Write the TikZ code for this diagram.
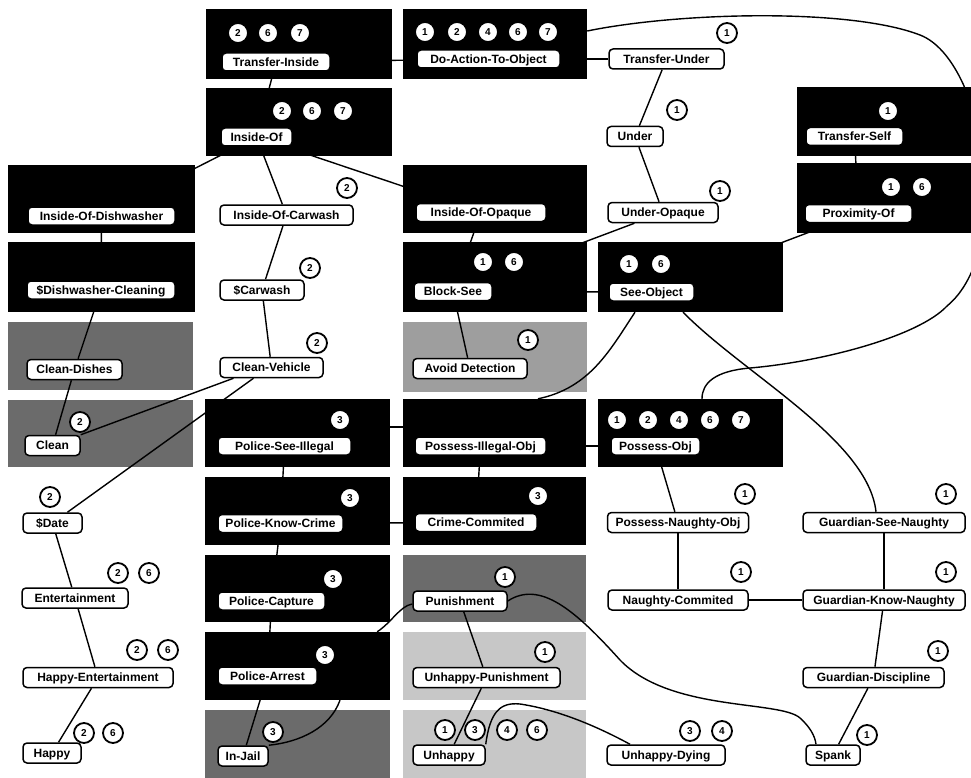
\documentclass[tikz,border=0pt]{standalone}
\usepackage{fontspec}
\setmainfont{Liberation Sans}
\usetikzlibrary{fit}
\pgfdeclarelayer{boxes}
\pgfdeclarelayer{edges}
\pgfsetlayers{boxes,edges,main}
\begin{document}
\begin{tikzpicture}[x=1pt,y=-1pt,
  blk/.style={fill=black,draw=none,inner sep=0pt},
  dk/.style={fill=black!58,draw=none,inner sep=0pt},
  md/.style={fill=black!38,draw=none,inner sep=0pt},
  lt/.style={fill=black!22,draw=none,inner sep=0pt},
  lab/.style={draw=black,fill=white,rounded corners=4pt,line width=1.5pt,inner sep=0pt,
    minimum height=20pt,font=\bfseries\fontsize{12}{12}\selectfont,text height=8.7pt,text depth=0.3pt},
  ilab/.style={lab,minimum height=18pt},
  num/.style={circle,draw=black,fill=white,line width=1.8pt,minimum size=20pt,inner sep=0pt,
    font=\bfseries\fontsize{10}{10}\selectfont},
  con/.style={line width=1.4pt,draw=black}
]
\useasboundingbox (0,0) rectangle (971,778);

\begin{pgfonlayer}{boxes}
\fill[white] (0,0) rectangle (971,778);
\node[blk,fit={(206,9) (392,79)}] (bTI) {};
\node[blk,fit={(206,88) (392,156)}] (bIO) {};
\node[blk,fit={(403,9) (587,79)}] (bDA) {};
\node[blk,fit={(797,87) (971,156)}] (bTS) {};
\node[blk,fit={(797,163) (971,233)}] (bPX) {};
\node[blk,fit={(8,165) (195,233)}] (bID) {};
\node[blk,fit={(8,242) (195,312)}] (bDC) {};
\node[blk,fit={(403,165) (587,233)}] (bIOO) {};
\node[blk,fit={(403,242) (587,312)}] (bBS) {};
\node[blk,fit={(598,242) (783,312)}] (bSO) {};
\node[blk,fit={(205,399) (390,467)}] (bPSI) {};
\node[blk,fit={(205,477) (390,545)}] (bPKC) {};
\node[blk,fit={(205,555) (390,622)}] (bPC) {};
\node[blk,fit={(205,632) (390,700)}] (bPA) {};
\node[blk,fit={(403,399) (586,467)}] (bPIO) {};
\node[blk,fit={(403,477) (586,545)}] (bCC) {};
\node[blk,fit={(598,399) (783,467)}] (bPO) {};
\node[dk,fit={(8,322) (193,390)}] (gCD) {};
\node[dk,fit={(8,400) (193,467)}] (gCl) {};
\node[md,fit={(403,322) (587,392)}] (gAD) {};
\node[dk,fit={(403,555) (586,622)}] (gPu) {};
\node[lt,fit={(403,632) (586,700)}] (gUP) {};
\node[lt,fit={(403,710) (586,778)}] (gUh) {};
\node[dk,fit={(205,710) (390,778)}] (gIJ) {};
\end{pgfonlayer}

% labels
\node[ilab,minimum width=108pt] (lTI) at (276,62) {Transfer-Inside};
\node[ilab,minimum width=71pt] (lIO) at (256.5,137) {Inside-Of};
\node[ilab,minimum width=143pt] (lDA) at (488.5,59) {Do-Action-To-Object};
\node[ilab,minimum width=97pt] (lTS) at (854.5,136.5) {Transfer-Self};
\node[ilab,minimum width=107pt] (lPX) at (858.5,213.5) {Proximity-Of};
\node[ilab,minimum width=147pt] (lID) at (101.5,216) {Inside-Of-Dishwasher};
\node[ilab,minimum width=148pt] (lDC) at (101,290) {\$Dishwasher-Cleaning};
\node[ilab,minimum width=130pt] (lIOO) at (481,212.5) {Inside-Of-Opaque};
\node[ilab,minimum width=78pt] (lBS) at (453,291.5) {Block-See};
\node[ilab,minimum width=85pt] (lSO) at (651.5,292) {See-Object};
\node[ilab,minimum width=133pt] (lPSI) at (284.5,446) {Police-See-Illegal};
\node[ilab,minimum width=125pt] (lPKC) at (280.5,523.5) {Police-Know-Crime};
\node[ilab,minimum width=107pt] (lPC) at (271.5,601) {Police-Capture};
\node[ilab,minimum width=99pt] (lPA) at (267.5,676) {Police-Arrest};
\node[ilab,minimum width=131pt] (lPIO) at (480.5,446) {Possess-Illegal-Obj};
\node[ilab,minimum width=122pt] (lCC) at (476,522.5) {Crime-Commited};
\node[ilab,minimum width=89pt] (lPO) at (655.5,446) {Possess-Obj};

\node[lab,minimum width=115pt] (lTU) at (666.5,59) {Transfer-Under};
\node[lab,minimum width=56pt] (lUnd) at (635,136.5) {Under};
\node[lab,minimum width=110pt] (lUO) at (663,212.5) {Under-Opaque};
\node[lab,minimum width=133pt] (lICW) at (286.5,215) {Inside-Of-Carwash};
\node[lab,minimum width=84pt] (lCW) at (262,290) {\$Carwash};
\node[lab,minimum width=103pt] (lCV) at (271.5,367.5) {Clean-Vehicle};
\node[lab,minimum width=95pt] (lCD) at (74.5,369.5) {Clean-Dishes};
\node[lab,minimum width=55pt] (lCl) at (52.5,445.5) {Clean};
\node[lab,minimum width=59pt] (lDt) at (52.5,523) {\$Date};
\node[lab,minimum width=106pt] (lEn) at (75,598) {Entertainment};
\node[lab,minimum width=150pt] (lHE) at (98,677.5) {Happy-Entertainment};
\node[lab,minimum width=58pt] (lHa) at (52,753) {Happy};
\node[lab,minimum width=114pt] (lAD) at (470,368.5) {Avoid Detection};
\node[lab,minimum width=94pt] (lPu) at (460,601) {Punishment};
\node[lab,minimum width=147pt] (lUP) at (486.5,677.5) {Unhappy-Punishment};
\node[lab,minimum width=72pt] (lUh) at (449,755) {Unhappy};
\node[lab,minimum width=50pt] (lIJ) at (243,756) {In-Jail};
\node[lab,minimum width=141pt] (lPNO) at (678,522.5) {Possess-Naughty-Obj};
\node[lab,minimum width=162pt] (lGSN) at (884,522.5) {Guardian-See-Naughty};
\node[lab,minimum width=140pt] (lNC) at (678,600) {Naughty-Commited};
\node[lab,minimum width=162pt] (lGKN) at (884,600) {Guardian-Know-Naughty};
\node[lab,minimum width=141pt] (lGD) at (873.5,677.5) {Guardian-Discipline};
\node[lab,minimum width=118pt] (lUDy) at (666,755) {Unhappy-Dying};
\node[lab,minimum width=54pt] (lSp) at (833,755) {Spank};

\coordinate (rowY) at (0,427);

\begin{pgfonlayer}{edges}
\draw[con] (lTI) -- (lIO);
\draw[con] (lTI) -- (lDA);
\draw[con] (lDA) -- (lTU);
\draw[con] (lTU) -- (lUnd);
\draw[con] (lUnd) -- (lUO);
\draw[con] (lUO) -- (lBS);
\draw[con] (lIO) -- (lID);
\draw[con] (lIO) -- (lICW);
\draw[con] (lIO) -- (lIOO);
\draw[con] (lID) -- (lDC);
\draw[con] (lDC) -- (lCD);
\draw[con] (lCD) -- (lCl);
\draw[con] (lICW) -- (lCW);
\draw[con] (lCW) -- (lCV);
\draw[con] ([xshift=-38pt]lCV.south) -- (lCl.north east);
\draw[con] ([xshift=-18pt]lCV.south) -- (lDt);
\draw[con] (lDt) -- (lEn);
\draw[con] (lEn) -- (lHE);
\draw[con] (lHE) -- (lHa);
\draw[con] (lIOO) -- (lBS);
\draw[con] (lBS) -- (lAD);
\draw[con] (lBS) -- (lSO);
\draw[con] (lTS) -- (lPX);
\draw[con] (lPX) -- (lSO);
\draw[con] (bPSI.east |- rowY) -- (bPIO.west |- rowY);
\draw[con] (lPSI) -- (lPKC);
\draw[con] (lPKC) -- (lCC);
\draw[con] (lPKC) -- (lPC);
\draw[con] (lPC) -- (lPA);
\draw[con] (lPA) -- (lIJ);
\draw[con] (lPIO) -- (lCC);
\draw[con] (lPIO) -- (lPO);
\draw[con] (lPO) -- (lPNO);
\draw[con] (lPNO) -- (lNC);
\draw[con] (lNC) -- (lGKN);
\draw[con] (lGSN) -- (lGKN);
\draw[con] (lGKN) -- (lGD);
\draw[con] (lGD) -- (lSp);
\draw[con] (lPu) -- (lUP);
\draw[con] (lUP) -- (lUh);
% curves
\draw[con] ([yshift=13pt]bDA.east) .. controls (680,12) and (850,8) .. (920,35)
  .. controls (985,60) and (1015,250) .. (947,306)
  .. controls (918,337) and (820,362) .. (750,368)
  .. controls (715,371) and (702,383) .. ([xshift=11.5pt]bPO.north);
\draw[con] ([xshift=-55.5pt]bSO.south) .. controls (610,350) and (590,388) .. ([xshift=43.5pt]bPIO.north);
\draw[con] ([xshift=-7.5pt]bSO.south) .. controls (745,375) and (868,440) .. ([xshift=-8pt]lGSN.north);
\draw[con] (lPu.east) .. controls (540,580) and (575,610) .. (620,660)
  .. controls (670,712) and (780,700) .. (800,718)
  .. controls (810,727) and (815,736) .. ([xshift=-17pt]lSp.north);
\draw[con] (lUh.north east) .. controls (490,712) and (500,702) .. (520,704)
  .. controls (560,710) and (600,728) .. ([xshift=-36pt]lUDy.north);
\draw[con] ([xshift=42.5pt]bPA.south) .. controls (330,728) and (300,742) .. (lIJ.north east);
\draw[con] ([xshift=-13pt]bPA.north east) .. controls (392,622) and (400,606) .. ([yshift=-3pt]lPu.west);
\end{pgfonlayer}

% numbered circles
\node[num] (cTI2) at (238,33) {2};
\node[num] (cTI6) at (268,33) {6};
\node[num] (cTI7) at (300,33) {7};
\node[num] (cIO2) at (282,111) {2};
\node[num] (cIO6) at (312,111) {6};
\node[num] (cIO7) at (343,111) {7};
\node[num] (cDA1) at (425,32) {1};
\node[num] (cDA2) at (457,32) {2};
\node[num] (cDA4) at (488,32) {4};
\node[num] (cDA6) at (518,32) {6};
\node[num] (cDA7) at (548,32) {7};
\node[num] (cTU1) at (727,33) {1};
\node[num] (cUn1) at (677,110) {1};
\node[num] (cUO1) at (720,191) {1};
\node[num] (cTS1) at (888,111) {1};
\node[num] (cPX1) at (891,187) {1};
\node[num] (cPX6) at (922,187) {6};
\node[num] (cICW2) at (347,188) {2};
\node[num] (cCW2) at (310,268) {2};
\node[num] (cCV2) at (317,343) {2};
\node[num] (cCl2) at (80,422) {2};
\node[num] (cDt2) at (50,497) {2};
\node[num] (cEn2) at (118,573) {2};
\node[num] (cEn6) at (149,573) {6};
\node[num] (cHE2) at (137,650) {2};
\node[num] (cHE6) at (168,650) {6};
\node[num] (cHa2) at (84,733) {2};
\node[num] (cHa6) at (113,733) {6};
\node[num] (cBS1) at (483,262) {1};
\node[num] (cBS6) at (514,262) {6};
\node[num] (cSO1) at (629,264) {1};
\node[num] (cSO6) at (661,264) {6};
\node[num] (cAD1) at (528,340) {1};
\node[num] (cPSI3) at (340,420) {3};
\node[num] (cPKC3) at (350,498) {3};
\node[num] (cPC3) at (333,579) {3};
\node[num] (cPA3) at (325,655) {3};
\node[num] (cIJ3) at (273,732) {3};
\node[num] (cCC3) at (538,496) {3};
\node[num] (cPO1) at (617,420) {1};
\node[num] (cPO2) at (648,420) {2};
\node[num] (cPO4) at (679,420) {4};
\node[num] (cPO6) at (710,420) {6};
\node[num] (cPO7) at (741,420) {7};
\node[num] (cPu1) at (505,577) {1};
\node[num] (cUP1) at (545,652) {1};
\node[num] (cUh1) at (445,730) {1};
\node[num] (cUh3) at (475,730) {3};
\node[num] (cUh4) at (507,730) {4};
\node[num] (cUh6) at (537,730) {6};
\node[num] (cPNO1) at (745,494) {1};
\node[num] (cGSN1) at (946,494) {1};
\node[num] (cNC1) at (741,572) {1};
\node[num] (cGKN1) at (946,572) {1};
\node[num] (cGD1) at (938,651) {1};
\node[num] (cSp1) at (867,735) {1};
\node[num] (cUD3) at (690,731) {3};
\node[num] (cUD4) at (722,731) {4};
\end{tikzpicture}
\end{document}
